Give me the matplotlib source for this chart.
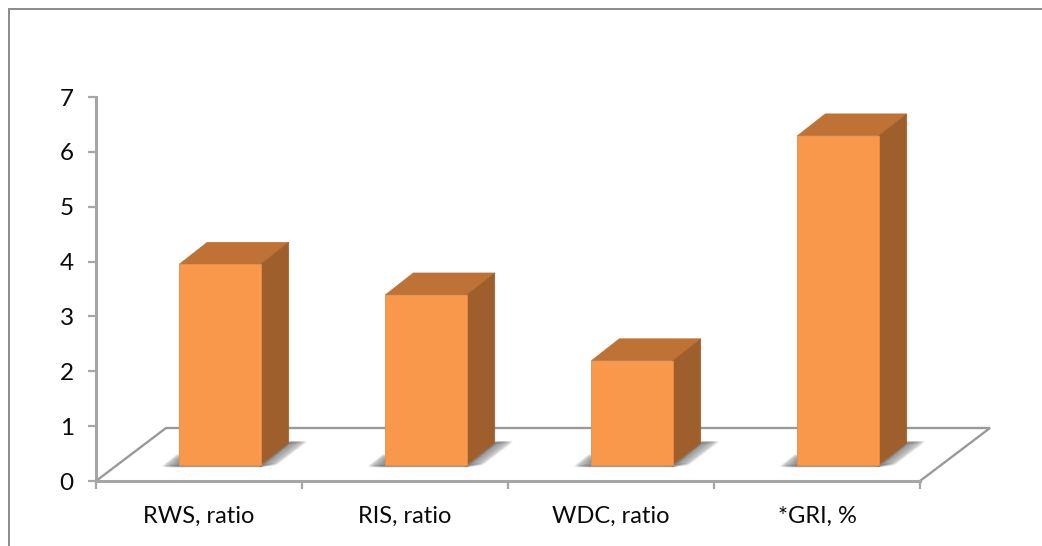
import matplotlib
matplotlib.use("Agg")
import matplotlib.pyplot as plt
from matplotlib.patches import Polygon
from matplotlib.transforms import Affine2D, IdentityTransform
from matplotlib.lines import Line2D

categories = ["RWS, ratio", "RIS, ratio", "WDC, ratio", "*GRI, %"]
values = [3.66, 3.10, 1.90, 6.00]
y_ticks = [0, 1, 2, 3, 4, 5, 6, 7]

W, H = 1042, 546
plt.rcParams["font.family"] = ["Lato", "DejaVu Sans"]
fig = plt.figure(figsize=(W / 100, H / 100), dpi=100, facecolor="white")
ax = fig.add_axes([96 / W, (H - 481) / H, 824 / W, 384 / H])
ax.set_xlim(0, len(categories))
ax.set_ylim(0, 7)
ax.patch.set_visible(False)

GREY = "#A6A6A6"
FRONT, TOP, SIDE = "#F9984A", "#BE7235", "#9E5F2C"


def shifted(dx, dy):
    return ax.transData + Affine2D().translate(dx, dy)


fig_tr = IdentityTransform()

# floor of the 3D plot
n = len(categories)
fx, fy = 70, 53
p0 = ax.transData.transform((0, 0))
p1 = ax.transData.transform((n, 0))
ax.add_line(Line2D([p0[0], p0[0] + fx, p1[0] + fx, p1[0]],
                   [p0[1], p0[1] + fy, p1[1] + fy, p1[1]],
                   color="#9A9A9A", lw=1.7, transform=fig_tr,
                   solid_joinstyle="miter", zorder=1, clip_on=False))

# bars
bar_w = 0.396
base_x, base_y = 21, 16
depth_x, depth_y = 28, 22
centers = [i + 0.5 for i in range(n)]

for c, v in zip(centers, values):
    l = ax.transData.transform((c - bar_w / 2, 0)) + (base_x, base_y)
    r = ax.transData.transform((c + bar_w / 2, 0)) + (base_x, base_y)
    # soft floor shadow, built from thin translucent layers
    for e in range(1, 17):
        k = e / 16
        pts_r = [(r[0], r[1] - 1), (r[0] + depth_x, r[1] + depth_y),
                 (r[0] + depth_x + 17 * k, r[1] + depth_y + 1), (r[0] + 16 * k, r[1] + 1)]
        pts_l = [(l[0] - 16 * k, l[1] - 1), (r[0], r[1] - 1), (r[0], r[1] + 4),
                 (l[0] - 2 * k, l[1] + 2 + 8 * k)]
        for pts in (pts_r, pts_l):
            ax.add_patch(Polygon(pts, closed=True, facecolor="#787878", edgecolor="#787878",
                                 lw=1.6, alpha=0.07, transform=fig_tr, clip_on=False,
                                 joinstyle="round", zorder=2))

bars = ax.bar(centers, values, width=bar_w, color=FRONT, edgecolor="#E98E45", linewidth=0.6,
              transform=shifted(base_x, base_y), clip_on=False, zorder=5)

for c, v in zip(centers, values):
    x0, x1 = c - bar_w / 2, c + bar_w / 2
    front = shifted(base_x, base_y)
    tl = front.transform((x0, v))
    tr = front.transform((x1, v))
    br = front.transform((x1, 0))
    d = (depth_x, depth_y)
    ax.add_patch(Polygon([tl, tr, tr + d, tl + d], closed=True, facecolor=TOP, edgecolor=TOP, lw=0.4,
                         transform=fig_tr, clip_on=False, zorder=4))
    ax.add_patch(Polygon([tr, br, br + d, tr + d], closed=True, facecolor=SIDE, edgecolor=SIDE, lw=0.4,
                         transform=fig_tr, clip_on=False, zorder=4))

# axes
for s in ("top", "right"):
    ax.spines[s].set_visible(False)
for s in ("left", "bottom"):
    ax.spines[s].set_color(GREY)
    ax.spines[s].set_linewidth(2.2)
ax.set_yticks(y_ticks)
ax.tick_params(axis="y", length=6, width=1.6, color=GREY, labelsize=17.5, pad=10, labelcolor="#0A0A0A")
ax.set_xticks(range(n + 1))
ax.set_xticklabels([])
ax.tick_params(axis="x", which="major", length=6, width=1.6, color=GREY)
ax.set_xticks(centers, minor=True)
ax.set_xticklabels(categories, minor=True)
ax.tick_params(axis="x", which="minor", length=0, pad=18, labelsize=17, labelcolor="#0A0A0A")

# outer frame of the picture
fig.add_artist(Line2D([8.5, 8.5, W], [0, H - 8.5, H - 8.5], color="#8A8A8A", lw=1.4,
                      transform=IdentityTransform(), solid_joinstyle="miter"))

fig.savefig("out.png", dpi=100)
